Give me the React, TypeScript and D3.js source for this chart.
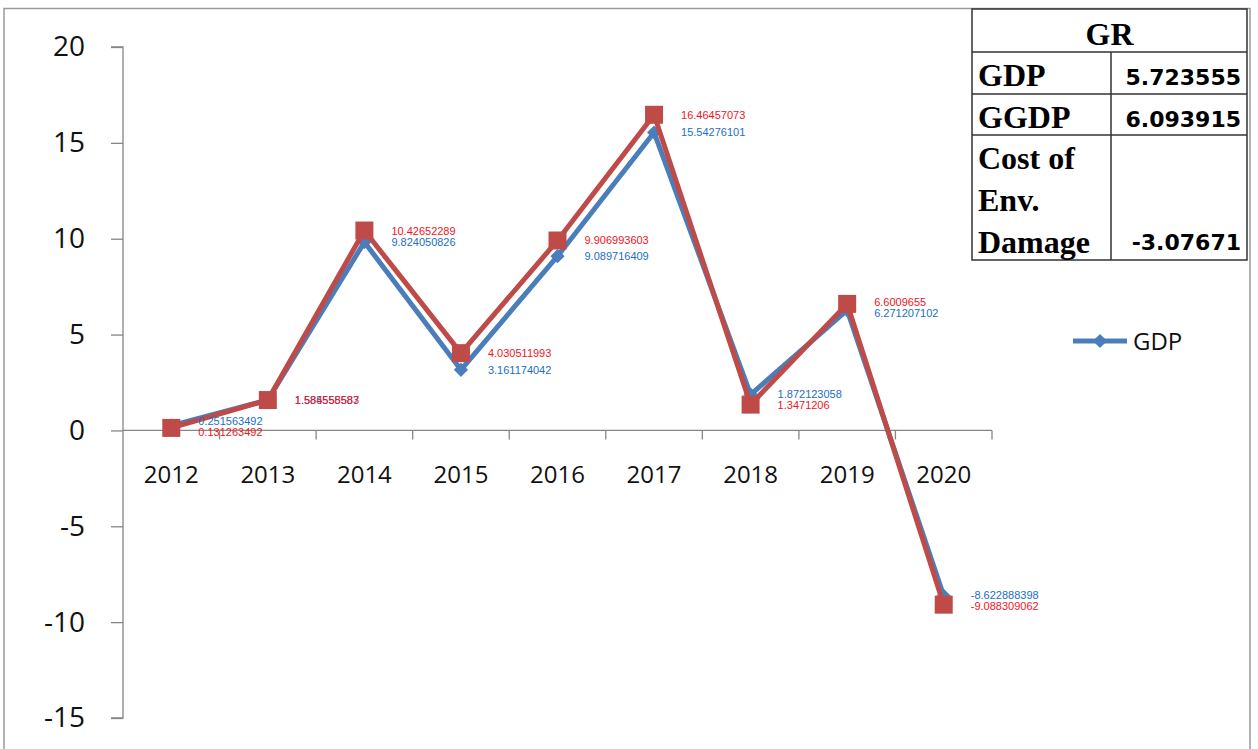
import { useEffect, useRef } from 'react';
import * as d3 from 'd3';

const years = ['2012', '2013', '2014', '2015', '2016', '2017', '2018', '2019', '2020'];
const gdp = [0.251563492, 1.585555587, 9.824050826, 3.161174042, 9.089716409, 15.54276101, 1.872123058, 6.271207102, -8.622888398];
const ggdp = [0.131263492, 1.584558583, 10.42652289, 4.030511993, 9.906993603, 16.46457073, 1.3471206, 6.6009655, -9.088309062];
const gdpLabels = ['0.251563492', '1.585555587', '9.824050826', '3.161174042', '9.089716409', '15.54276101', '1.872123058', '6.271207102', '-8.622888398'];
const ggdpLabels = ['0.131263492', '1.584558583', '10.42652289', '4.030511993', '9.906993603', '16.46457073', '1.3471206', '6.6009655', '-9.088309062'];
const yTicks = [-15, -10, -5, 0, 5, 10, 15, 20];

const tableHeader = 'GR';
const tableRows = [
  { name: ['GDP'], value: '5.723555' },
  { name: ['GGDP'], value: '6.093915' },
  { name: ['Cost of', 'Env.', 'Damage'], value: '-3.07671' },
];

const BLUE = '#4a7ebb';
const RED = '#be4b48';

export default function App() {
  const svgRef = useRef<SVGSVGElement>(null);

  useEffect(() => {
    if (!svgRef.current) return;
    const W = 1258;
    const H = 749;
    const svg = d3.select(svgRef.current);
    svg.selectAll('*').remove();
    svg.attr('width', W).attr('height', H);

    // outer frame
    svg.append('path')
      .attr('d', `M4,${H} L4,8.5 L1250,8.5 L1250,${H}`)
      .attr('fill', 'none')
      .attr('stroke', '#9a9a9a')
      .attr('stroke-width', 1.5);

    const x = d3.scaleBand<string>().domain(years).range([123, 992]);
    const y = d3.scaleLinear().domain([-15, 20]).range([718, 47]);
    const cx = (d: string) => x(d)! + x.bandwidth() / 2;

    // y axis
    const yAxis = svg.append('g')
      .attr('transform', 'translate(123,0)')
      .call(d3.axisLeft(y).tickValues(yTicks).tickSize(12).tickPadding(26).tickFormat((d) => String(d)));
    yAxis.selectAll('path, line').attr('stroke', '#868686').attr('stroke-width', 1.3);
    yAxis.select('.domain').attr('d', `M-12,${y(20)}H0V${y(-15)}H-12`);
    yAxis.selectAll('text')
      .attr('font-family', '"Open Sans", sans-serif')
      .attr('font-size', 28)
      .attr('fill', '#111');

    // x axis at zero
    const y0 = y(0);
    svg.append('line')
      .attr('x1', 123).attr('x2', 992)
      .attr('y1', y0).attr('y2', y0)
      .attr('stroke', '#868686').attr('stroke-width', 1.3);
    const bounds = years.map((d) => x(d)!).concat([992]).slice(1);
    svg.selectAll('.xtick')
      .data(bounds)
      .enter()
      .append('line')
      .attr('x1', (d) => d).attr('x2', (d) => d)
      .attr('y1', y0).attr('y2', y0 + 9)
      .attr('stroke', '#868686').attr('stroke-width', 1.3);
    svg.selectAll('.xlabel')
      .data(years)
      .enter()
      .append('text')
      .attr('x', (d) => cx(d))
      .attr('y', y0 + 53)
      .attr('text-anchor', 'middle')
      .attr('font-family', '"Open Sans", sans-serif')
      .attr('font-size', 24)
      .attr('fill', '#111')
      .text((d) => d);

    const line = d3.line<number>()
      .x((_, i) => cx(years[i]))
      .y((d) => y(d));

    // GDP series
    svg.append('path')
      .datum(gdp)
      .attr('d', line)
      .attr('fill', 'none')
      .attr('stroke', BLUE)
      .attr('stroke-width', 5)
      .attr('stroke-linejoin', 'round');
    const diamond = d3.symbol(d3.symbolSquare, 100)();
    svg.selectAll('.gdpm')
      .data(gdp)
      .enter()
      .append('path')
      .attr('d', diamond)
      .attr('transform', (d, i) => `translate(${cx(years[i])},${y(d)}) rotate(45)`)
      .attr('fill', BLUE);

    // GGDP series
    svg.append('path')
      .datum(ggdp)
      .attr('d', line)
      .attr('fill', 'none')
      .attr('stroke', RED)
      .attr('stroke-width', 5)
      .attr('stroke-linejoin', 'round');
    const square = d3.symbol(d3.symbolSquare, 324)();
    svg.selectAll('.ggdpm')
      .data(ggdp)
      .enter()
      .append('path')
      .attr('d', square)
      .attr('transform', (d, i) => `translate(${cx(years[i])},${y(d)})`)
      .attr('fill', RED);

    // data labels: centred on the point, pushed apart a little when the two
    // series' labels for a year sit very close (but not when they coincide)
    const labelY = (own: number, other: number) => {
      const a = y(own);
      const b = y(other);
      const gap = Math.abs(a - b);
      if (gap > 1 && gap < 11) {
        const push = (11 - gap) / 2;
        return a + (a < b ? -push : push);
      }
      return a;
    };
    const addLabels = (vals: number[], others: number[], labels: string[], color: string) => {
      svg.append('g')
        .selectAll('text')
        .data(vals)
        .enter()
        .append('text')
        .attr('x', (_, i) => cx(years[i]) + 27)
        .attr('y', (d, i) => labelY(d, others[i]) + 4)
        .attr('font-family', '"Liberation Sans", Arial, sans-serif')
        .attr('font-size', 11)
        .attr('fill', color)
        .text((_, i) => labels[i]);
    };
    addLabels(gdp, ggdp, gdpLabels, '#1a6fc4');
    addLabels(ggdp, gdp, ggdpLabels, '#f0141e');

    // legend
    const lg = svg.append('g').attr('transform', 'translate(1073,341)');
    lg.append('line').attr('x1', 0).attr('x2', 54).attr('stroke', BLUE).attr('stroke-width', 5);
    lg.append('path').attr('d', diamond).attr('transform', 'translate(27,0) rotate(45)').attr('fill', BLUE);
    lg.append('text')
      .attr('x', 60).attr('y', 9)
      .attr('font-family', '"Open Sans", sans-serif')
      .attr('font-size', 24)
      .attr('fill', '#111')
      .text('GDP');

    // GR table
    const tL = 972, tR = 1247, tM = 1111;
    const rowY = [9, 52, 94, 135, 260];
    const t = svg.append('g');
    t.append('rect')
      .attr('x', tL).attr('y', rowY[0])
      .attr('width', tR - tL).attr('height', rowY[4] - rowY[0])
      .attr('fill', '#fff').attr('stroke', '#333').attr('stroke-width', 1.5);
    rowY.slice(1, 4).forEach((ry) => {
      t.append('line').attr('x1', tL).attr('x2', tR).attr('y1', ry).attr('y2', ry)
        .attr('stroke', '#333').attr('stroke-width', 1.5);
    });
    t.append('line').attr('x1', tM).attr('x2', tM).attr('y1', rowY[1]).attr('y2', rowY[4])
      .attr('stroke', '#333').attr('stroke-width', 1.5);
    t.append('text')
      .attr('x', (tL + tR) / 2).attr('y', 45)
      .attr('text-anchor', 'middle')
      .attr('font-family', '"Liberation Serif", serif')
      .attr('font-weight', 'bold')
      .attr('font-size', 32)
      .attr('fill', '#000')
      .text(tableHeader);
    tableRows.forEach((r, i) => {
      r.name.forEach((n, j) => {
        t.append('text')
          .attr('x', tL + 6)
          .attr('y', rowY[i + 1] + 34 + j * 42)
          .attr('font-family', '"Liberation Serif", serif')
          .attr('font-weight', 'bold')
          .attr('font-size', 32)
          .attr('fill', '#000')
          .text(n);
      });
      t.append('text')
        .attr('x', tR - 6)
        .attr('y', rowY[i + 1] + 33 + (r.name.length - 1) * 41)
        .attr('text-anchor', 'end')
        .attr('font-family', '"DejaVu Sans", sans-serif')
        .attr('font-weight', 'bold')
        .attr('font-size', 22)
        .attr('fill', '#000')
        .text(r.value);
    });
  }, []);

  return (
    <svg
      ref={svgRef}
      style={{ position: 'absolute', left: 0, top: 0, display: 'block', background: '#fff' }}
      role="img"
      aria-label="GDP and GGDP growth rate chart"
    />
  );
}
